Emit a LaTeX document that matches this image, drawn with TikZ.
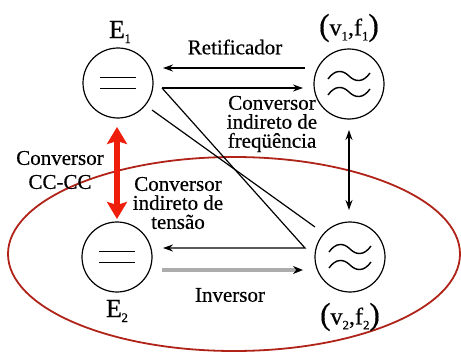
\documentclass[tikz,border=0pt]{standalone}
\usepackage{fontspec}
\setmainfont{Liberation Serif}
\newfontfamily\tms[FakeBold=0.5]{Liberation Serif}
\usetikzlibrary{arrows.meta}
\definecolor{ellred}{RGB}{175,35,25}
\definecolor{arrred}{RGB}{238,30,10}
\newcommand\subl[1]{\raisebox{-5pt}{\fontsize{13}{13}\selectfont #1}}
\newcommand\bigpar[1]{{\fontsize{31}{31}\selectfont #1}}
\begin{document}
\begin{tikzpicture}[x=1pt,y=-1pt,
  src/.style={circle,draw,line width=1.2pt,minimum size=70pt,inner sep=0pt},
  lbl/.style={font=\tms\fontsize{21}{19}\selectfont,align=center,inner sep=0pt},
  big/.style={font=\tms\fontsize{26}{26}\selectfont,inner sep=0pt},
  conn/.style={line width=1.2pt},
  tip/.style={-{Stealth[length=10pt,width=7pt]}},
]
\useasboundingbox (0,0) rectangle (461,356);
% ellipse
\draw[ellred,line width=1.8pt] (234,254) ellipse [x radius=226, y radius=97];
% sources
\node[src] (c1) at (118,83) {};
\node[src] (c2) at (349,84) {};
\node[src] (c3) at (117,257) {};
\node[src] (c4) at (350,257) {};
% DC symbols
\foreach \n in {c1,c3}{
  \draw[line width=1.5pt] ([xshift=-18pt,yshift=-5.5pt]\n.center) -- ([xshift=18pt,yshift=-5.5pt]\n.center);
  \draw[line width=1.5pt] ([xshift=-18pt,yshift=5.5pt]\n.center) -- ([xshift=18pt,yshift=5.5pt]\n.center);
}
% AC symbols
\foreach \n in {c2,c4}{
  \foreach \dy in {-8,8}{
    \draw[line width=1.4pt,shift={(\n.center)},yshift=-\dy pt]
      (-21,3) .. controls (-14,-7) and (-6,-6) .. (0,0) .. controls (6,6) and (14,7) .. (21,-3);
  }
}
% labels
\node[big] (e1) at (120,32) {E\kern-0.5pt\subl{1}};
\node[big] (e2) at (117,311) {E\kern-0.5pt\subl{2}};
\node[font=\tms\fontsize{24}{24}\selectfont,inner sep=0pt] (vf1) at (349,28) {\bigpar{(}v\subl{1},f\subl{1}\bigpar{)}};
\node[font=\tms\fontsize{24}{24}\selectfont,inner sep=0pt] (vf2) at (350,317) {\bigpar{(}v\subl{2},f\subl{2}\bigpar{)}};
% coordinates
\coordinate (r1) at (305,68);  \coordinate (r2) at (163,68);
\coordinate (f1) at (162,88);  \coordinate (f2) at (303,88);
\coordinate (t1) at (305,248); \coordinate (t2) at (163,248);
\coordinate (d1) at (152,110); \coordinate (d2) at (315,227);
\coordinate (i1) at (162,270); \coordinate (i2) at (303,270);
\coordinate (v1) at (349,130); \coordinate (v2) at (349,210);
\coordinate (k1) at (117,127); \coordinate (k2) at (117,219);
% connectors
\draw[conn,tip] (r1) -- (r2);
\draw[conn,tip] (f1) -- (f2);
\draw[conn,tip] (f1) -- (t1) -- (t2);
\draw[conn] (d1) -- (d2);
\draw[gray!65,line width=3.2pt,-{Stealth[length=10pt,width=8pt,color=black]}] (i1) -- (i2);
\draw[conn,{Stealth[length=10pt,width=7pt]}-{Stealth[length=10pt,width=7pt]}] (v1) -- (v2);
\draw[arrred,line width=6pt,{Stealth[length=17pt,width=20pt,inset=3pt]}-{Stealth[length=17pt,width=20pt,inset=3pt]}] (k1) -- (k2);
% texts
\node[lbl] (tret) at (235,47) {Retificador};
\node[lbl] (tinv) at (230,295) {Inversor};
\node[lbl] (tfreq) at (272,124) {Conversor\\indireto de\\freqüência};
\node[lbl] (tten) at (178,203) {Conversor\\indireto de\\tensão};
\node[lbl,font=\tms\fontsize{21}{24}\selectfont] (tcc) at (60,170) {Conversor\\CC-CC};
\end{tikzpicture}
\end{document}
